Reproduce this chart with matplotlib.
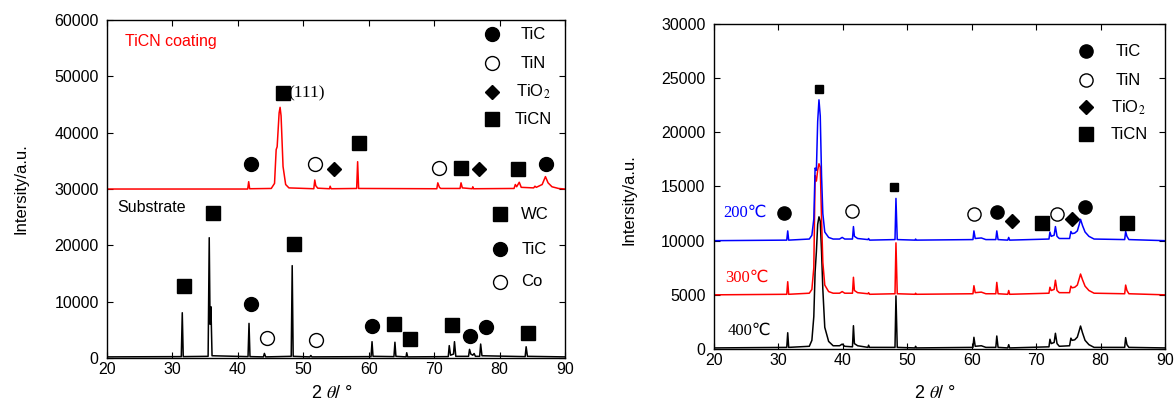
import matplotlib
matplotlib.use("Agg")
import matplotlib.pyplot as plt

plt.rcParams['font.family'] = ['Liberation Sans', 'DejaVu Sans']
plt.rcParams['mathtext.fontset'] = 'stix'

# ---- left panel: TiCN coating / substrate (2theta, intensity)
coat_x = [20, 41.5, 41.65, 41.8, 45.1, 45.6, 45.85, 46.0, 46.3, 46.45, 46.6, 46.9, 47.3, 47.8,
          51.6, 51.75, 51.9, 52.2, 54.0, 54.1, 54.25, 58.15, 58.3, 58.45,
          70.4, 70.55, 70.8, 71.0, 73.95, 74.1, 74.3, 75.8, 75.9, 76.0,
          82.2, 82.4, 82.6, 83.0, 83.3, 85.2, 85.4, 85.6, 86.5, 87.0, 87.4, 88.0, 89.0, 90]
coat_y = [30000, 30000, 31300, 30050, 30100, 31000, 37000, 37500, 43500, 44500, 43000, 34000, 30800, 30200,
          30050, 31600, 30600, 30150, 30050, 30500, 30050, 30100, 34850, 30100,
          30050, 31100, 30300, 30100, 30100, 31100, 30200, 30050, 30400, 30050,
          30100, 30800, 30400, 31200, 30300, 30200, 30500, 30300, 30800, 32200, 31100, 30400, 30100, 30000]

sub_x = [20, 31.35, 31.5, 31.65, 35.45, 35.62, 35.75, 35.88, 36.05, 41.55, 41.7, 41.85,
         43.9, 44.05, 44.25, 48.15, 48.3, 48.45, 51.0, 51.15, 51.3,
         60.35, 60.5, 60.65, 63.85, 64.0, 64.15, 65.7, 65.8, 65.95,
         72.15, 72.3, 72.5, 72.95, 73.1, 73.3, 75.25, 75.4, 75.6, 75.9, 76.1, 76.3,
         76.95, 77.1, 77.3, 83.9, 84.05, 84.25, 90]
sub_y = [200, 250, 8040, 250, 300, 21360, 6000, 9100, 400, 250, 6150, 250,
         200, 820, 200, 300, 16400, 300, 200, 450, 200,
         250, 2900, 300, 250, 2800, 300, 200, 940, 200,
         250, 2200, 500, 700, 2900, 300, 300, 1540, 700, 500, 800, 300,
         300, 2480, 400, 250, 2000, 300, 200]

# phase markers, left panel: (2theta, height)
coat_tic = [(42.0, 34400), (87.1, 34400)]
coat_tin = [(51.8, 34400), (70.8, 33700)]
coat_tio2 = [(54.7, 33500), (76.8, 33500)]
coat_ticn = [(58.5, 38200), (74.1, 33700), (82.8, 33600)]
coat_111 = (46.85, 47000)

sub_wc = [(31.7, 12780), (36.25, 25690), (48.6, 20240), (63.9, 6040), (66.3, 3430),
          (72.7, 5800), (84.3, 4500)]
sub_tic = [(42.0, 9590), (60.5, 5680), (75.5, 3900), (77.9, 5560)]
sub_co = [(44.4, 3500), (51.9, 3200)]

# ---- right panel: annealed samples
ann_x = [20, 31.3, 31.45, 31.6, 34.8, 35.2, 35.5, 35.7, 35.9, 36.1, 36.3, 36.5, 36.7, 36.9, 37.2, 37.8, 38.5,
         39.5, 39.9, 40.3, 41.5, 41.65, 41.8, 42.3, 43.9, 44.0, 44.15, 48.1, 48.25, 48.45,
         51.2, 51.3, 51.4, 60.2, 60.35, 60.55, 61.5, 62.2, 63.75, 63.9, 64.1, 65.6, 65.75, 65.9,
         72.0, 72.15, 72.35, 72.8, 73.0, 73.25, 73.6, 75.2, 75.4, 75.6, 76.0, 76.4, 76.7, 76.9,
         77.2, 77.6, 78.2, 79.0, 83.75, 83.9, 84.1, 84.4, 90]
t200_y = [10000, 10050, 10900, 10050, 10150, 10500, 12000, 16700, 16500, 21000, 23000, 21500, 16000, 12500, 10800, 10300, 10150,
          10150, 10300, 10150, 10150, 11300, 10400, 10200, 10100, 10200, 10050, 10100, 13900, 10100,
          10050, 10150, 10050, 10100, 10900, 10200, 10250, 10100, 10100, 10900, 10100, 10050, 10300, 10050,
          10150, 10800, 10400, 10500, 11300, 10400, 10200, 10200, 10850, 10650, 10700, 10900, 11500, 11970,
          11400, 10800, 10400, 10150, 10100, 10850, 10400, 10100, 10000]
t300_y = [5000, 5050, 6210, 5050, 5150, 5500, 7500, 16000, 15500, 16500, 17100, 16800, 12000, 8000, 5900, 5300, 5150,
          5150, 5300, 5150, 5150, 6620, 5400, 5200, 5100, 5200, 5050, 5100, 9800, 5100,
          5050, 5150, 5050, 5100, 5840, 5200, 5250, 5100, 5100, 6150, 5100, 5050, 5400, 5050,
          5150, 5700, 5400, 5500, 6350, 5400, 5200, 5200, 5800, 5650, 5700, 5900, 6500, 6920,
          6400, 5800, 5400, 5150, 5100, 5900, 5400, 5100, 5000]
t400_y = [100, 150, 1500, 150, 250, 800, 3000, 7100, 9000, 11500, 12200, 11800, 9000, 5500, 2000, 700, 300,
          300, 450, 250, 200, 2150, 500, 300, 150, 350, 150, 150, 4900, 150,
          100, 250, 100, 150, 1080, 250, 300, 150, 150, 1200, 150, 100, 400, 100,
          200, 900, 500, 600, 1450, 500, 250, 300, 1000, 800, 850, 1100, 1700, 2120,
          1500, 800, 400, 150, 150, 1050, 400, 150, 100]

ann_tic = [(30.9, 12530), (63.9, 12620), (77.6, 13080)]
ann_tin = [(41.5, 12770), (60.4, 12430), (73.2, 12430)]
ann_tio2 = [(66.2, 11820), (75.65, 12000)]
ann_ticn_big = [(70.85, 11600), (84.15, 11600)]
ann_ticn_small = [(36.35, 24000), (48.0, 14930)]

serif = ['Liberation Serif', 'DejaVu Sans']


def marks(ax, pts, marker, size, filled=True):
    xs = [p[0] for p in pts]
    ys = [p[1] for p in pts]
    ax.plot(xs, ys, linestyle='none', marker=marker, ms=size,
            mfc='black' if filled else 'white', mec='black', mew=1.0, zorder=5)


def style(ax, ymax, ystep):
    ax.set_xlim(20, 90)
    ax.set_ylim(0, ymax)
    ax.set_xticks(range(20, 91, 10))
    ax.set_yticks(range(0, ymax + 1, ystep))
    ax.tick_params(direction='in', top=True, right=True, length=4, width=0.8,
                   labelsize=11.5)
    ax.tick_params(axis='y', pad=6)
    ax.tick_params(axis='x', pad=3)
    for s in ax.spines.values():
        s.set_linewidth(1.0)
    ax.set_ylabel('Intersity/a.u.', fontsize=12)
    ax.set_xlabel('2 $\\mathit{\\theta}$/ °', fontsize=13)


fig = plt.figure(figsize=(11.76, 4.08), dpi=100)

# left
ax1 = fig.add_axes([0.0910, 0.1225, 0.3895, 0.8284])
ax1.plot(sub_x, sub_y, color='black', lw=1.1)
ax1.plot(coat_x, coat_y, color='red', lw=1.1)
style(ax1, 60000, 10000)
ax1.yaxis.set_label_coords(-0.172, 0.5)
ax1.xaxis.set_label_coords(0.49, -0.08)

marks(ax1, coat_tic, 'o', 10)
marks(ax1, coat_tin, 'o', 10, filled=False)
marks(ax1, coat_tio2, 'D', 7)
marks(ax1, coat_ticn, 's', 10)
marks(ax1, [coat_111], 's', 10)
ax1.text(coat_111[0] + 0.9, coat_111[1], '(111)', fontsize=12.5, family=serif, va='center')
marks(ax1, sub_wc, 's', 10)
marks(ax1, sub_tic, 'o', 10)
marks(ax1, sub_co, 'o', 10, filled=False)

ax1.text(22.8, 56200, 'TiCN coating', color='red', fontsize=11.5, va='center')
ax1.text(21.6, 26800, 'Substrate', fontsize=11.5, va='center')

# legend-like key, drawn in data coordinates
marks(ax1, [(78.8, 57450)], 'o', 10)
marks(ax1, [(78.8, 52300)], 'o', 10, filled=False)
marks(ax1, [(78.8, 47300)], 'D', 7)
marks(ax1, [(78.8, 42400)], 's', 10)
ax1.text(85.1, 57450, 'TiC', fontsize=12, ha='center', va='center')
ax1.text(85.1, 52300, 'TiN', fontsize=12, ha='center', va='center')
ax1.text(85.1, 47300, 'TiO$_2$', fontsize=12, ha='center', va='center')
ax1.text(85.1, 42400, 'TiCN', fontsize=12, ha='center', va='center')
marks(ax1, [(80.0, 25560)], 's', 10)
marks(ax1, [(80.0, 19300)], 'o', 10)
marks(ax1, [(80.0, 13550)], 'o', 10, filled=False)
ax1.text(83.3, 25560, 'WC', fontsize=12, va='center')
ax1.text(83.3, 19300, 'TiC', fontsize=12, va='center')
ax1.text(83.3, 13550, 'Co', fontsize=12, va='center')

# right
ax2 = fig.add_axes([0.6071, 0.1446, 0.3835, 0.7966])
ax2.plot(ann_x, t400_y, color='black', lw=1.1)
ax2.plot(ann_x, t300_y, color='red', lw=1.1)
ax2.plot(ann_x, t200_y, color='blue', lw=1.1)
style(ax2, 30000, 5000)
ax2.yaxis.set_label_coords(-0.171, 0.46)
ax2.xaxis.set_label_coords(0.49, -0.11)

marks(ax2, ann_tic, 'o', 9.5)
marks(ax2, ann_tin, 'o', 9.5, filled=False)
marks(ax2, ann_tio2, 'D', 7)
marks(ax2, ann_ticn_big, 's', 9.5)
marks(ax2, ann_ticn_small, 's', 6)

ax2.text(21.5, 12530, '200℃', color='blue', fontsize=12, family=serif, va='center')
ax2.text(21.8, 6620, '300℃', color='red', fontsize=12, family=serif, va='center')
ax2.text(22.1, 1690, '400℃', color='black', fontsize=12, family=serif, va='center')

marks(ax2, [(77.7, 27500)], 'o', 9.5)
marks(ax2, [(77.7, 24800)], 'o', 9.5, filled=False)
marks(ax2, [(77.7, 22300)], 'D', 7)
marks(ax2, [(77.7, 19800)], 's', 9.5)
ax2.text(84.3, 27500, 'TiC', fontsize=12, ha='center', va='center')
ax2.text(84.3, 24800, 'TiN', fontsize=12, ha='center', va='center')
ax2.text(84.3, 22300, 'TiO$_2$', fontsize=12, ha='center', va='center')
ax2.text(84.5, 19800, 'TiCN', fontsize=12, ha='center', va='center')

fig.savefig('out.png', dpi=100)
